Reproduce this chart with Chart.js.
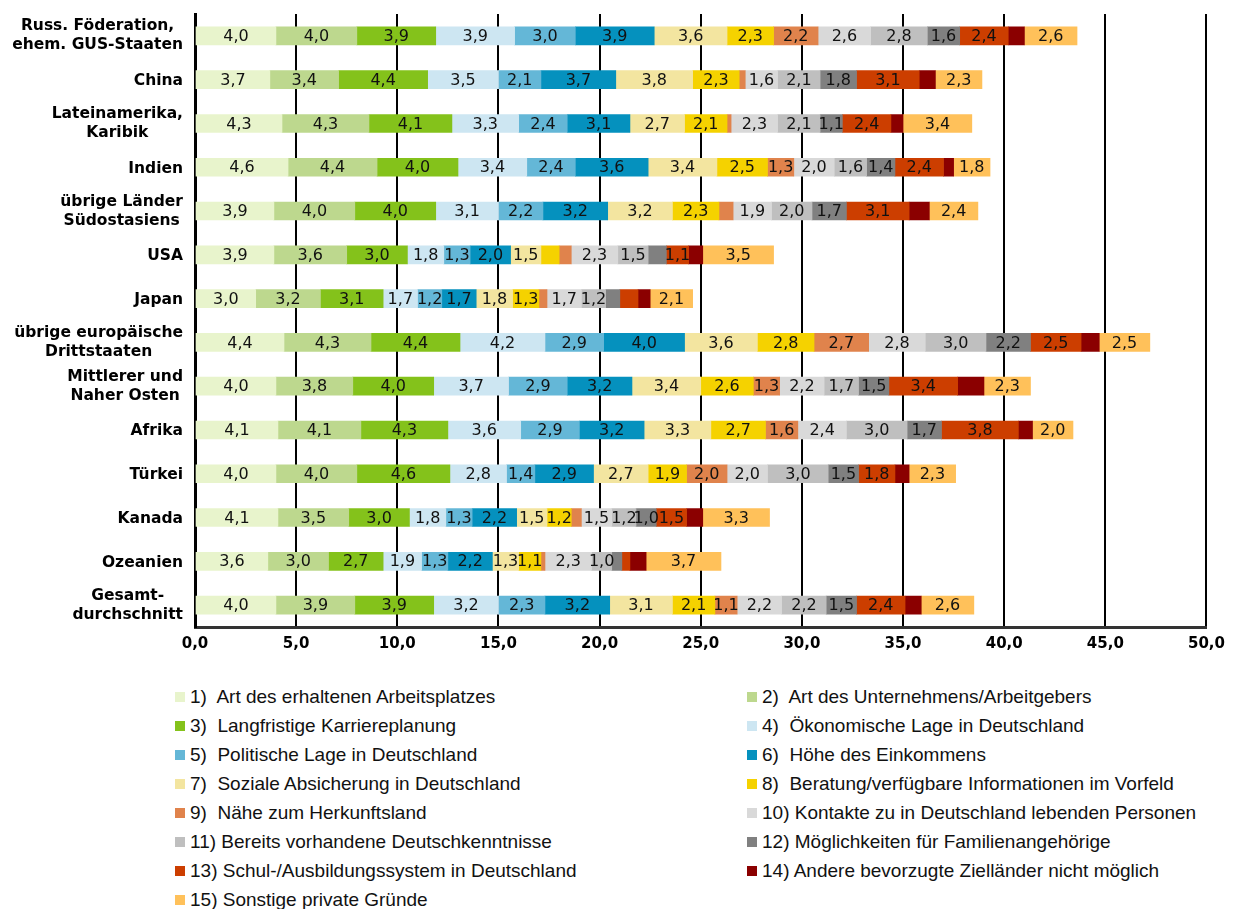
<!DOCTYPE html>
<html lang="de">
<head>
<meta charset="utf-8">
<title>Gründe für die Wahl Deutschlands</title>
<script src="https://cdn.jsdelivr.net/npm/chart.js@4.4.1/dist/chart.umd.min.js"></script>
<style>
  body { margin: 0; background: #fff; }
  #wrap { position: relative; width: 1233px; height: 909px; }
  #legend {
    position: absolute; top: 683px; left: 175px;
    display: grid; grid-template-columns: 572px 480px; grid-auto-rows: 28.9px;
    font-family: "Liberation Sans", Arial, sans-serif; font-size: 19px; color: #111;
  }
  .item { display: flex; align-items: center; white-space: pre; }
  .box { width: 10px; height: 10px; margin-right: 5px; flex: none; }
</style>
</head>
<body>
<div id="wrap">
  <canvas id="reasons-chart" width="1233" height="665"></canvas>
  <div id="legend"></div>
</div>
<script>
// ---------------- data ---------------- //

const countries = [
  ["Russ. Föderation,", "ehem. GUS-Staaten"], "China", ["Lateinamerika,", "Karibik"], "Indien",
  ["übrige Länder", "Südostasiens"], "USA", "Japan", ["übrige europäische", "Drittstaaten"],
  ["Mittlerer und", "Naher Osten"], "Afrika", "Türkei", "Kanada", "Ozeanien", ["Gesamt-", "durchschnitt"]
];

const seriesNames = [
  "1)  Art des erhaltenen Arbeitsplatzes",
  "2)  Art des Unternehmens/Arbeitgebers",
  "3)  Langfristige Karriereplanung",
  "4)  Ökonomische Lage in Deutschland",
  "5)  Politische Lage in Deutschland",
  "6)  Höhe des Einkommens",
  "7)  Soziale Absicherung in Deutschland",
  "8)  Beratung/verfügbare Informationen im Vorfeld",
  "9)  Nähe zum Herkunftsland",
  "10) Kontakte zu in Deutschland lebenden Personen",
  "11) Bereits vorhandene Deutschkenntnisse",
  "12) Möglichkeiten für Familienangehörige",
  "13) Schul-/Ausbildungssystem in Deutschland",
  "14) Andere bevorzugte Zielländer nicht möglich",
  "15) Sonstige private Gründe"
];

const s01 = [4.0, 3.7, 4.3, 4.6, 3.9, 3.9, 3.0, 4.4, 4.0, 4.1, 4.0, 4.1, 3.6, 4.0];
const s02 = [4.0, 3.4, 4.3, 4.4, 4.0, 3.6, 3.2, 4.3, 3.8, 4.1, 4.0, 3.5, 3.0, 3.9];
const s03 = [3.9, 4.4, 4.1, 4.0, 4.0, 3.0, 3.1, 4.4, 4.0, 4.3, 4.6, 3.0, 2.7, 3.9];
const s04 = [3.9, 3.5, 3.3, 3.4, 3.1, 1.8, 1.7, 4.2, 3.7, 3.6, 2.8, 1.8, 1.9, 3.2];
const s05 = [3.0, 2.1, 2.4, 2.4, 2.2, 1.3, 1.2, 2.9, 2.9, 2.9, 1.4, 1.3, 1.3, 2.3];
const s06 = [3.9, 3.7, 3.1, 3.6, 3.2, 2.0, 1.7, 4.0, 3.2, 3.2, 2.9, 2.2, 2.2, 3.2];
const s07 = [3.6, 3.8, 2.7, 3.4, 3.2, 1.5, 1.8, 3.6, 3.4, 3.3, 2.7, 1.5, 1.3, 3.1];
const s08 = [2.3, 2.3, 2.1, 2.5, 2.3, 0.9, 1.3, 2.8, 2.6, 2.7, 1.9, 1.2, 1.1, 2.1];
const s09 = [2.2, 0.3, 0.2, 1.3, 0.7, 0.6, 0.4, 2.7, 1.3, 1.6, 2.0, 0.5, 0.2, 1.1];
const s10 = [2.6, 1.6, 2.3, 2.0, 1.9, 2.3, 1.7, 2.8, 2.2, 2.4, 2.0, 1.5, 2.3, 2.2];
const s11 = [2.8, 2.1, 2.1, 1.6, 2.0, 1.5, 1.2, 3.0, 1.7, 3.0, 3.0, 1.2, 1.0, 2.2];
const s12 = [1.6, 1.8, 1.1, 1.4, 1.7, 0.9, 0.7, 2.2, 1.5, 1.7, 1.5, 1.0, 0.5, 1.5];
const s13 = [2.4, 3.1, 2.4, 2.4, 3.1, 1.1, 0.9, 2.5, 3.4, 3.8, 1.8, 1.5, 0.4, 2.4];
const s14 = [0.8, 0.8, 0.6, 0.5, 1.0, 0.7, 0.6, 0.9, 1.3, 0.7, 0.7, 0.8, 0.8, 0.8];
const s15 = [2.6, 2.3, 3.4, 1.8, 2.4, 3.5, 2.1, 2.5, 2.3, 2.0, 2.3, 3.3, 3.7, 2.6];

const allSeries = [s01, s02, s03, s04, s05, s06, s07, s08, s09, s10, s11, s12, s13, s14, s15];

const seriesColors = [
  '#E8F4CC', '#BDD88E', '#84C21B', '#CDE6F2', '#64B7D7',
  '#0591BE', '#F3E5A0', '#F5D200', '#E0834C', '#D9D9D9',
  '#BFBFBF', '#808080', '#CC3E00', '#8B0000', '#FFC15A'
];

const xMax = 50;
const xStep = 5;

// ---------------- chart ---------------- //

const formatDe = v => Number(v).toFixed(1).replace('.', ',');

// segment values written in the middle of each bar piece (not for series 14, not under 1,0)
const segmentLabels = {
  id: 'segmentLabels',
  afterDatasetsDraw(chart) {
    const ctx = chart.ctx;
    ctx.save();
    ctx.font = '16px "DejaVu Sans"';
    ctx.fillStyle = '#111';
    ctx.textAlign = 'center';
    ctx.textBaseline = 'middle';
    chart.data.datasets.forEach((ds, i) => {
      if (ds.noLabels) return;
      chart.getDatasetMeta(i).data.forEach((bar, j) => {
        const v = ds.data[j];
        if (v < 1) return;
        ctx.fillText(formatDe(v), (bar.x + bar.base) / 2, bar.y + 1);
      });
    });
    ctx.restore();
  }
};

// category names: block right aligned to the axis, lines centred inside the block
const categoryLabels = {
  id: 'categoryLabels',
  afterDraw(chart) {
    const ctx = chart.ctx;
    const yScale = chart.scales.y;
    const lineH = 19;
    ctx.save();
    ctx.font = 'bold 15.5px "DejaVu Sans"';
    ctx.fillStyle = '#000';
    ctx.textAlign = 'center';
    ctx.textBaseline = 'middle';
    chart.data.labels.forEach((label, i) => {
      const lines = Array.isArray(label) ? label : [label];
      const w = Math.max(...lines.map(l => ctx.measureText(l).width));
      const cx = yScale.right - 12 - w / 2;
      const shift = lines.length > 1 ? 0 : 1.5;
      const y0 = yScale.getPixelForTick(i) + shift - (lines.length - 1) * lineH / 2;
      lines.forEach((l, k) => ctx.fillText(l, cx, y0 + k * lineH));
    });
    ctx.restore();
  }
};

const datasets = allSeries.map((data, i) => ({
  label: seriesNames[i],
  data: data,
  backgroundColor: seriesColors[i],
  borderWidth: 0,
  barThickness: 18,
  noLabels: i === 13
}));

const reasonsChart = new Chart(document.getElementById('reasons-chart'), {
  type: 'bar',
  data: { labels: countries, datasets: datasets },
  options: {
    indexAxis: 'y',
    responsive: false,
    animation: false,
    layout: { padding: { top: 14, right: 22, left: 0, bottom: 0 } },
    scales: {
      x: {
        stacked: true,
        min: 0,
        max: xMax,
        ticks: {
          stepSize: xStep,
          callback: v => formatDe(v),
          color: '#000',
          padding: 8,
          maxRotation: 0,
          font: { family: 'DejaVu Sans', weight: 'bold', size: 15 }
        },
        grid: { color: '#000', lineWidth: 2, drawTicks: false },
        border: { color: '#333', width: 3 },
        afterFit: s => { s.height = 38; }
      },
      y: {
        stacked: true,
        ticks: { display: false },
        grid: { display: false, drawTicks: false },
        border: { color: '#000', width: 3 },
        afterFit: s => { s.width = 195; }
      }
    },
    plugins: {
      legend: { display: false },
      tooltip: { enabled: false }
    }
  },
  plugins: [segmentLabels, categoryLabels]
});

// ---------------- legend (two columns) ---------------- //

const legendBox = document.getElementById('legend');
reasonsChart.data.datasets.forEach(ds => {
  const item = document.createElement('div');
  item.className = 'item';
  item.innerHTML = `<span class="box" style="background:${ds.backgroundColor}"></span><span>${ds.label}</span>`;
  legendBox.appendChild(item);
});
</script>
</body>
</html>
